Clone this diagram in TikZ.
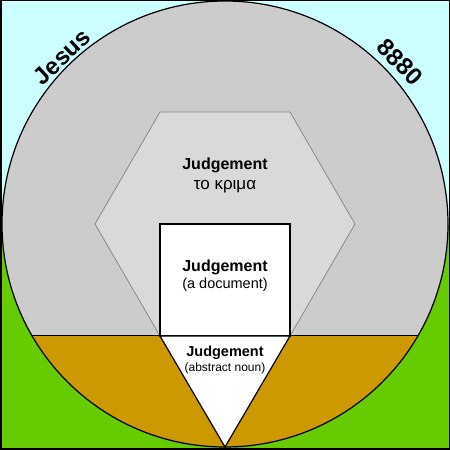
\documentclass[tikz,border=0pt]{standalone}
\usepackage{fontspec}
\setmainfont{Liberation Sans}
\definecolor{skyc}{HTML}{CCFFFF}
\definecolor{grassc}{HTML}{66CC00}
\definecolor{diskc}{HTML}{CCCCCC}
\definecolor{earthc}{HTML}{CC9900}
\definecolor{hexc}{HTML}{D9D9D9}
\definecolor{hexline}{HTML}{8A8A8A}
\tikzset{
  lbl/.style={inner sep=0pt, font=\fontsize{16}{18}\selectfont\bfseries},
  sub/.style={inner sep=0pt, font=\fontsize{14.5}{16}\selectfont},
  arclbl/.style={inner sep=0pt, font=\fontsize{24}{26}\selectfont\bfseries},
  outline/.style={draw=black, line width=1.2pt}
}
\begin{document}
\begin{tikzpicture}[x=1pt,y=1pt]
\useasboundingbox (0,0) rectangle (450,450);
% background
\fill[skyc] (0,225) rectangle (450,450);
\fill[grassc] (0,0) rectangle (450,225);
% disk
\fill[diskc] (225,226) circle (223);
% earth segment
\begin{scope}
  \clip (225,226) circle (223);
  \fill[earthc] (0,0) rectangle (450,114);
  \draw[black, line width=1pt] (0,114) -- (450,114);
\end{scope}
% hexagon
\filldraw[fill=hexc, draw=hexline, line width=0.8pt]
  (160,338) -- (290,338) -- (355,226) -- (290,114) -- (160,114) -- (95,226) -- cycle;
% document rectangle
\filldraw[fill=white, outline] (160,114) rectangle (290,226);
% triangle
\filldraw[fill=white, outline] (160,114) -- (290,114) -- (225,3) -- cycle;
% disk outline
\draw[black, line width=1.2pt] (225,226) circle (223);
% frame
\draw[black, line width=1.5pt] (0.75,0.75) rectangle (449.25,449.25);
% texts
\node[lbl] (hexa) at (225,285) {Judgement};
\node[inner sep=0pt, font=\fontsize{17}{19}\selectfont] (hexb) at (225,263) {το κριμα};
\node[lbl] (recta) at (225,183) {Judgement};
\node[sub] (rectb) at (225,165) {(a document)};
\node[inner sep=0pt, font=\fontsize{14.5}{16}\selectfont\bfseries] (tria) at (225,97) {Judgement};
\node[inner sep=0pt, font=\fontsize{12}{14}\selectfont] (trib) at (225,82) {(abstract noun)};
\node[arclbl, rotate=43] (jesus) at (62,393) {Jesus};
\node[arclbl, rotate=-46] (num) at (400,388) {8880};
\end{tikzpicture}
\end{document}
